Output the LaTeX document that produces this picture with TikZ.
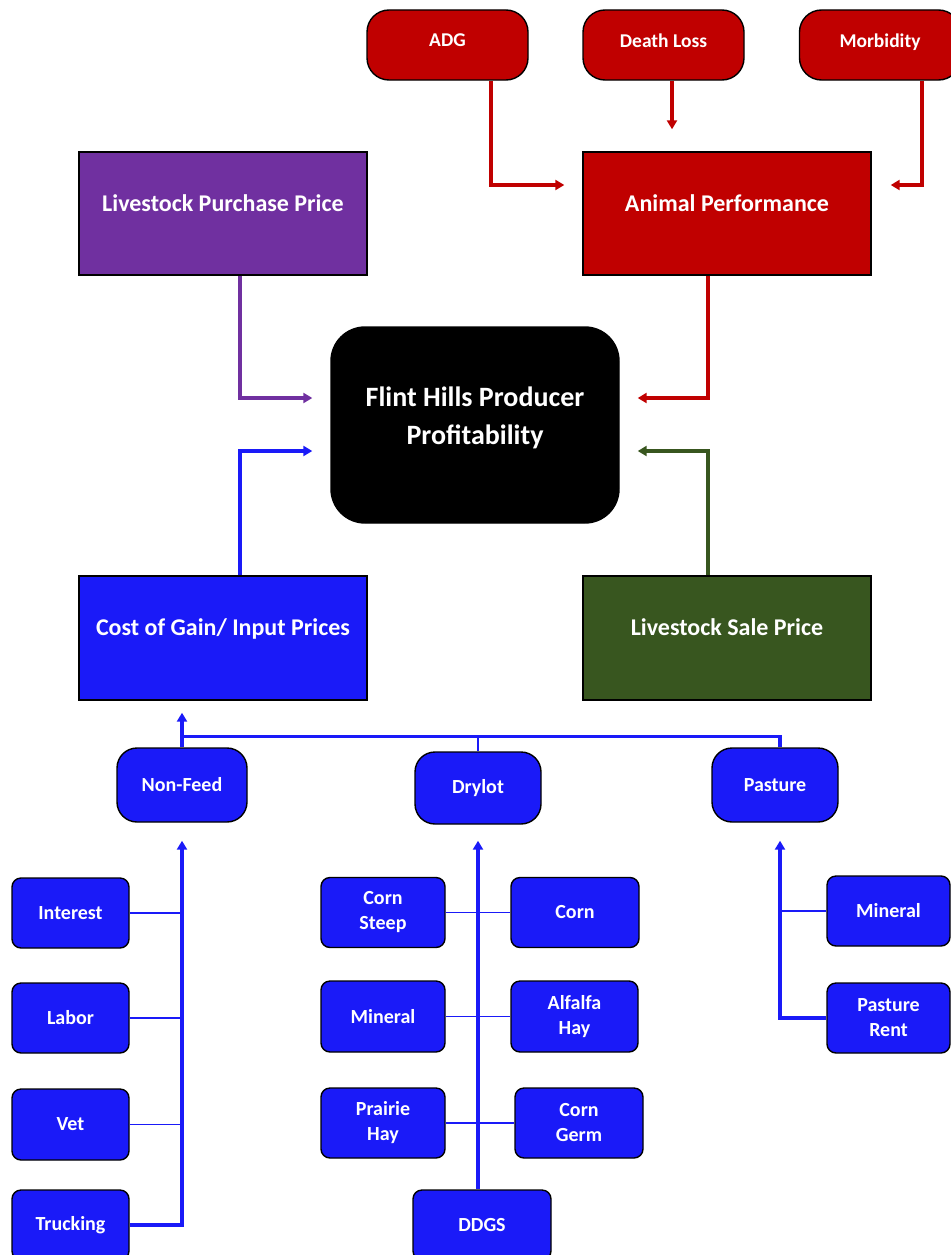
\documentclass[tikz,border=0pt]{standalone}
\usepackage{fontspec}
\setmainfont{Carlito}
\usepackage{tikz}
\usetikzlibrary{arrows.meta}
\usetikzlibrary{calc}

\definecolor{fhred}{HTML}{C00000}
\definecolor{fhpurple}{HTML}{7030A0}
\definecolor{fhblue}{HTML}{1A1AF8}
\definecolor{fhgreen}{HTML}{38561F}

\begin{document}
\begin{tikzpicture}[x=1pt,y=-1pt,
	box/.style={draw=black,line width=1.4pt,text=white,font=\bfseries\fontsize{24}{28}\selectfont,align=center,minimum width=288pt,minimum height=123pt,inner sep=0pt,text depth=21pt},
	pill/.style={draw=black,line width=1.4pt,text=white,font=\bfseries\fontsize{19.5}{28}\selectfont,align=center,rounded corners=22pt,minimum height=70pt,inner sep=0pt,text depth=9pt},
	leaf/.style={draw=black,line width=1.4pt,fill=fhblue,text=white,font=\bfseries\fontsize{20}{25}\selectfont,align=center,rounded corners=9pt,minimum height=70pt,inner sep=0pt},
	arr/.style={line width=3.2pt,-{Triangle[length=9pt,width=10pt]}},
	branch/.style={line width=1.8pt,fhblue}]
	\useasboundingbox (0,0) rectangle (950,1255);

	% top row
	\node[pill,fill=fhred,minimum width=161pt] (adg) at (447.5,45) {ADG};
	\node[pill,fill=fhred,minimum width=161pt] (death) at (663.5,45) {Death Loss};
	\node[pill,fill=fhred,minimum width=161pt] (morb) at (880,45) {Morbidity};

	\node[box,fill=fhpurple] (lpp) at (223,213.5) {Livestock Purchase Price};
	\node[box,fill=fhred] (anim) at (727,213.5) {Animal Performance};

	\node[box,fill=black,rounded corners=34pt,minimum height=196pt,font=\bfseries\fontsize{28}{38}\selectfont,text depth=18pt] (prof) at (475,425) {Flint Hills Producer\\Profitability};

	\node[box,fill=fhblue,minimum height=124pt] (cog) at (223,638) {Cost of Gain/ Input Prices};
	\node[box,fill=fhgreen,minimum height=124pt] (lsp) at (727,638) {Livestock Sale Price};

	% feed groups
	\node[leaf,rounded corners=20pt,minimum width=130pt,minimum height=74pt] (nonfeed) at (182,785) {Non-Feed};
	\node[leaf,rounded corners=20pt,minimum width=126pt,minimum height=72pt] (drylot) at (478,788) {Drylot};
	\node[leaf,rounded corners=20pt,minimum width=126pt,minimum height=74pt] (pasture) at (775,785) {Pasture};

	\node[leaf,minimum width=117pt] (interest) at (70.5,913) {Interest};
	\node[leaf,minimum width=117pt] (labor) at (70.5,1018) {Labor};
	\node[leaf,minimum width=117pt,minimum height=71pt] (vet) at (70.5,1124.5) {Vet};
	\node[leaf,minimum width=117pt] (trucking) at (70.5,1225) {Trucking};

	\node[leaf,minimum width=124pt] (csteep) at (383,912.5) {Corn\\Steep};
	\node[leaf,minimum width=128pt] (corn) at (575,912.5) {Corn};
	\node[leaf,minimum width=124pt,minimum height=71pt] (mineral) at (383,1016.5) {Mineral};
	\node[leaf,minimum width=127pt,minimum height=71pt] (alfalfa) at (574.5,1016.5) {Alfalfa\\Hay};
	\node[leaf,minimum width=124pt] (prairie) at (383,1123) {Prairie\\Hay};
	\node[leaf,minimum width=128pt] (germ) at (579,1123) {Corn\\Germ};
	\node[leaf,minimum width=138pt] (ddgs) at (482,1225) {DDGS};

	\node[leaf,minimum width=123pt] (pmin) at (888.5,911) {Mineral};
	\node[leaf,minimum width=123pt] (prent) at (888.5,1018) {Pasture\\Rent};

	% into animal performance
	\draw[arr,fhred,shorten >=18pt] ([xshift=43.5pt]adg.south) |- ([yshift=28.5pt]anim.west);
	\draw[arr,fhred,shorten >=22pt] ([xshift=8.5pt]death.south) -- ([xshift=8.5pt]death.south |- anim.north);
	\draw[arr,fhred,shorten >=19pt] ([xshift=42pt]morb.south) |- ([yshift=28.5pt]anim.east);

	% into profitability
	\draw[arr,fhpurple,shorten >=18pt] ([xshift=17pt]lpp.south) |- ([yshift=27pt]prof.west);
	\draw[arr,fhblue,shorten >=18pt] ([xshift=17pt]cog.north) |- ([yshift=-26pt]prof.west);
	\draw[arr,fhred,shorten >=18pt] ([xshift=-19pt]anim.south) |- ([yshift=27pt]prof.east);
	\draw[arr,fhgreen,shorten >=18pt] ([xshift=-19pt]lsp.north) |- ([yshift=-26pt]prof.east);

	% groups into cost of gain
	\coordinate (bus) at ([yshift=11pt]nonfeed.north);
	\draw[arr,fhblue,shorten >=12pt] (nonfeed.north) -- (nonfeed.north |- cog.south);
	\draw[line width=3.2pt,fhblue] (bus) -| ([xshift=5pt]pasture.north);
	\draw[branch] (drylot.north) -- (drylot.north |- bus);

	% non-feed items
	\draw[arr,fhblue,shorten >=18pt] (trucking.east) -| (nonfeed.south);
	\draw[branch] (interest.east) -- (interest.east -| nonfeed.south);
	\draw[branch] (labor.east) -- (labor.east -| nonfeed.south);
	\draw[branch] (vet.east) -- (vet.east -| nonfeed.south);

	% drylot items
	\draw[arr,fhblue,shorten >=16pt] (ddgs.north -| drylot.south) -- (drylot.south);
	\draw[branch] (csteep.east) -- (corn.west);
	\draw[branch] (mineral.east) -- (alfalfa.west);
	\draw[branch] (prairie.east) -- (germ.west);

	% pasture items
	\coordinate (pcol) at ([xshift=5pt]pasture.south);
	\draw[arr,fhblue,shorten >=18pt] (prent.west) -| (pcol);
	\draw[branch] (pmin.west) -- (pmin.west -| pcol);
\end{tikzpicture}
\end{document}
